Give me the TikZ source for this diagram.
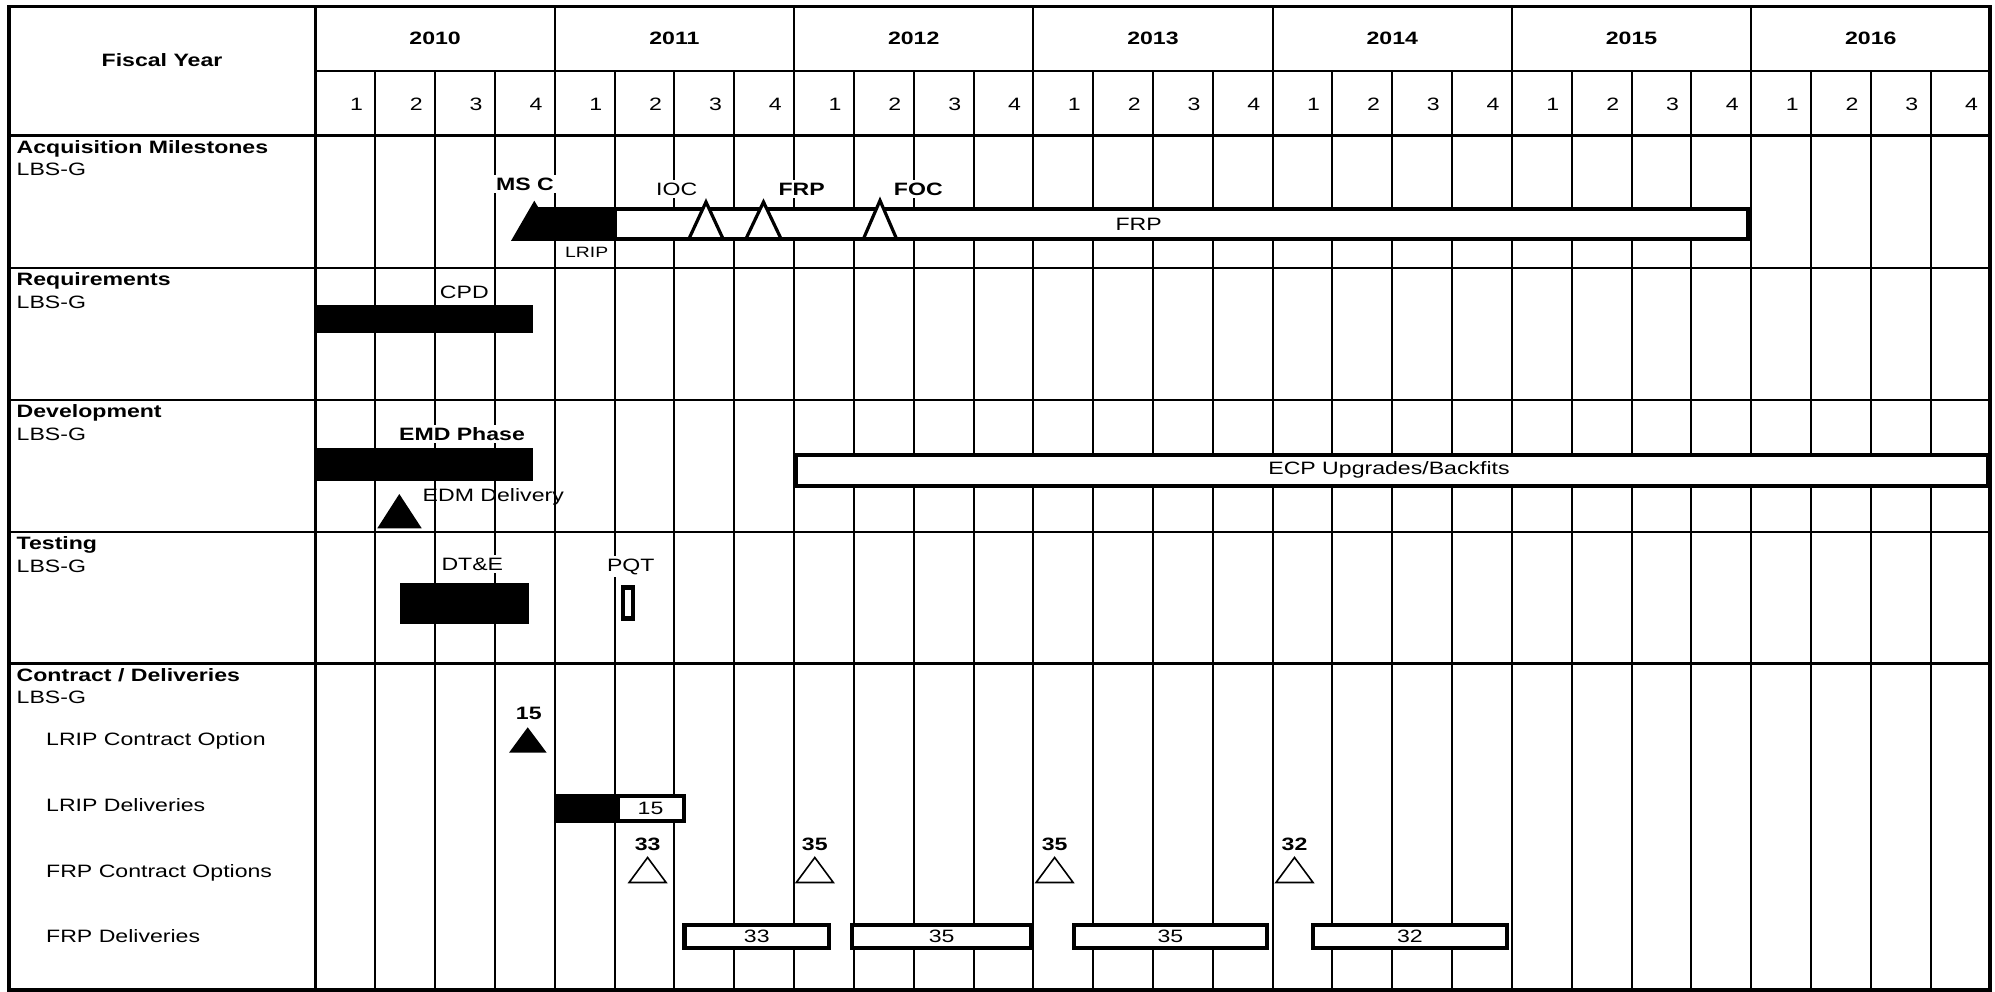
\documentclass[tikz,border=0pt]{standalone}
\usepackage{fontspec}
\setmainfont{Liberation Sans}[FakeStretch=1.29]
\newcommand{\fsz}{\fontsize{17.9}{21}\selectfont}
\newcommand{\fsm}{\fontsize{15}{17}\selectfont}
\begin{document}
\begin{tikzpicture}[x=1pt,y=-1pt,
  gridline/.style={line width=2pt},
  sepline/.style={line width=2.4pt},
  txt/.style={font=\fsz, inner sep=2.5pt, fill=white},
  btxt/.style={font=\fsz\bfseries, inner sep=2.5pt, fill=white},
  rowhead/.style={font=\fsz\bfseries, anchor=base west, inner sep=0pt},
  rowsub/.style={font=\fsz, anchor=base west, inner sep=0pt},
  openbar/.style={draw, line width=3.8pt, fill=white},
  opentri/.style={draw, line width=3.2pt, fill=white},
  thintri/.style={draw, line width=1.6pt, fill=white},
]
\fill[white] (0,0) rectangle (1995,992);
\useasboundingbox (0,0) rectangle (1995,992);

% ---------------- grid ----------------
\foreach \k in {1,...,27} \draw[gridline] ({315.5+59.82*\k},71) -- ({315.5+59.82*\k},990);
\foreach \k in {4,8,...,24} \draw[gridline] ({315.5+59.82*\k},6.5) -- ({315.5+59.82*\k},71);
\draw[gridline] (315.5,71) -- (1990,71);
\draw[sepline] (315.5,6.5) -- (315.5,990);
\foreach \yy in {268.3,400,531.7,663.3} \draw[sepline] (9,\yy) -- (1990,\yy);
\draw[line width=3.2pt] (9,135.7) -- (1990,135.7);
\draw[line width=3.2pt] (9,6.5) rectangle (1990,990);

% ---------------- header ----------------
\node[font=\fsz\bfseries] (fy) at (162,60) {Fiscal Year};
\foreach \yr [count=\i from 0] in {2010,2011,...,2016}
  \node[font=\fsz\bfseries] (yr\yr) at ({315.5+239.28*\i+119.64},38) {\yr};
\foreach \i in {0,...,27} {
  \pgfmathtruncatemacro{\qn}{mod(\i,4)+1}
  \node[font=\fsz] (q\i) at ({315.5+59.82*\i+41},104) {\qn};
}

% ---------------- row labels ----------------
\node[rowhead] (acq) at (16.5,153.5) {Acquisition Milestones};
\node[rowsub] (acqs) at (16.5,176) {LBS-G};
\node[rowhead] (req) at (16.5,286) {Requirements};
\node[rowsub] (reqs) at (16.5,308.5) {LBS-G};
\node[rowhead] (dev) at (16.5,417.8) {Development};
\node[rowsub] (devs) at (16.5,440.2) {LBS-G};
\node[rowhead] (tst) at (16.5,549.5) {Testing};
\node[rowsub] (tsts) at (16.5,572) {LBS-G};
\node[rowhead] (con) at (16.5,681) {Contract / Deliveries};
\node[rowsub] (cons) at (16.5,703.5) {LBS-G};
\node[rowsub] (lco) at (46,745.5) {LRIP Contract Option};
\node[rowsub] (ldl) at (46,811.2) {LRIP Deliveries};
\node[rowsub] (fco) at (46,877) {FRP Contract Options};
\node[rowsub] (fdl) at (46,942.2) {FRP Deliveries};

% ---------------- acquisition milestones ----------------
\draw[openbar] (615,209) rectangle (1748.3,239);
\node[font=\fsz, inner sep=0pt] (frptxt) at (1138.7,224) {FRP};
\fill (511,240.9) -- (534.3,200.7) -- (538.1,207.1) -- (616.5,207.1) -- (616.5,240.9) -- cycle;
\draw[opentri] (689,238.7) -- (706,202) -- (723,238.7) -- cycle;
\draw[opentri] (746,238.7) -- (763.5,202) -- (781,238.7) -- cycle;
\draw[opentri] (863.5,238.7) -- (880,200.5) -- (896.5,238.7) -- cycle;
\node[btxt] (msc) at (525,184.3) {MS C};
\node[txt] (ioc) at (676.7,189) {IOC};
\node[btxt] (frpm) at (801.7,189) {FRP};
\node[btxt] (foc) at (918.3,189) {FOC};
\node[txt, font=\fsm] (lrip) at (586.7,252.7) {LRIP};

% ---------------- requirements ----------------
\fill (314.5,305) rectangle (532.6,333.3);
\node[txt] (cpd) at (464.3,292.3) {CPD};

% ---------------- development ----------------
\fill (314.5,448.3) rectangle (532.6,481);
\node[btxt] (emd) at (462,434) {EMD Phase};
\fill (377.3,528.3) -- (399.3,494) -- (421.7,528.3) -- cycle;
\node[font=\fsz, inner sep=0pt] (edm) at (493.3,497.3) {EDM Delivery};
\draw[openbar] (796.2,454.6) rectangle (1988,485.9);
\node[font=\fsz, inner sep=0pt] (ecp) at (1389,470) {ECP Upgrades/Backfits};

% ---------------- testing ----------------
\fill (399.5,583.3) rectangle (529,624);
\node[txt] (dte) at (472.3,564) {DT\&E};
\draw[line width=4.6pt, fill=white] (622.9,587.2) rectangle (632.8,618.5);
\node[txt] (pqt) at (630.8,566.7) {PQT};

% ---------------- contract / deliveries ----------------
\fill (509,752.7) -- (527.7,727.3) -- (546.7,752.7) -- cycle;
\node[btxt] (c15) at (528.8,713.3) {15};
\draw[line width=4.2pt, fill=white] (557.7,796.3) rectangle (683.7,820.7);
\fill (555.7,794.3) rectangle (620,822.7);
\node[font=\fsz, inner sep=0pt] (d15) at (650.5,808.3) {15};
\foreach \cx/\lab [count=\i] in {647.6/33, 814.8/35, 1054.6/35, 1294.5/32} {
  \draw[thintri] ({\cx-18.5},882.5) -- (\cx,857.5) -- ({\cx+18.5},882.5) -- cycle;
  \node[btxt] (o\i) at (\cx,844) {\lab};
}
\foreach \a/\b/\lab [count=\i] in {684.5/829/33, 852.3/1031/35, 1073.7/1267.2/35, 1312.8/1507/32} {
  \draw[openbar, line width=4.2pt] (\a,925) rectangle (\b,947.6);
  \node[font=\fsz, inner sep=0pt] (fd\i) at ({(\a+\b)/2},936.5) {\lab};
}
\end{tikzpicture}
\end{document}
